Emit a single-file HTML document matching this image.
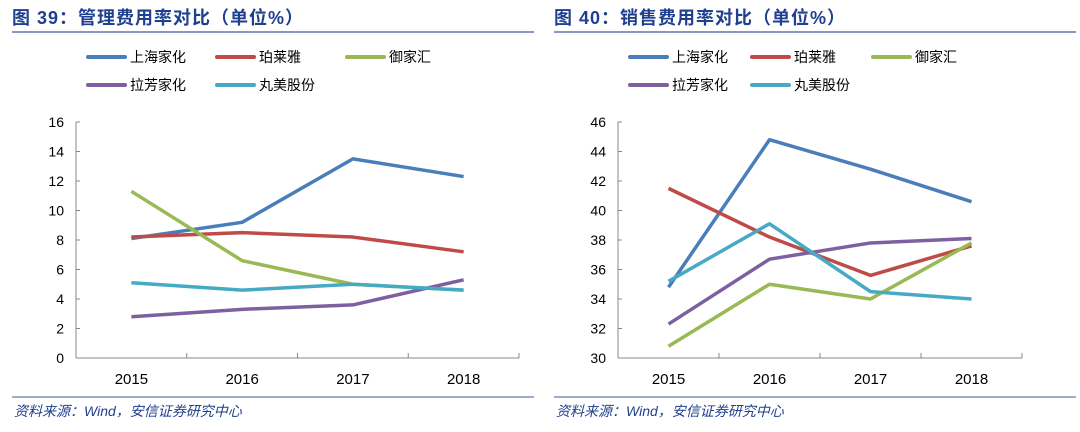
<!DOCTYPE html>
<html><head><meta charset="utf-8"><style>
body{margin:0;width:1080px;height:432px;background:#fff;overflow:hidden;font-family:"Liberation Sans","Noto Sans CJK SC",sans-serif}
svg{position:absolute;left:0;top:0}
</style></head><body>
<svg id="s" width="1080" height="432"></svg>
<script>
const years=["2015","2016","2017","2018"];
const names=["上海家化","珀莱雅","御家汇","拉芳家化","丸美股份"];
const colors=["#4a7ebb","#be4b48","#98b954","#7d60a0","#46aac5"];
const mgmtShjh=[8.1,9.2,13.5,12.3];
const mgmtPly=[8.2,8.5,8.2,7.2];
const mgmtYjh=[11.3,6.6,5.0,4.6];
const mgmtLf=[2.8,3.3,3.6,5.3];
const mgmtWm=[5.1,4.6,5.0,4.6];
const saleShjh=[34.8,44.8,42.8,40.6];
const salePly=[41.5,38.2,35.6,37.6];
const saleYjh=[30.8,35.0,34.0,37.8];
const saleLf=[32.3,36.7,37.8,38.1];
const saleWm=[35.2,39.1,34.5,34.0];
const leftTicks=[0,2,4,6,8,10,12,14,16];
const rightTicks=[30,32,34,36,38,40,42,44,46];
const S=document.getElementById('s');const NS="http://www.w3.org/2000/svg";
function mk(t,a,txt){const e=document.createElementNS(NS,t);for(const k in a)e.setAttribute(k,a[k]);if(txt!=null)e.textContent=txt;S.appendChild(e);return e;}
function chart(o){
  const t=mk('text',{x:o.x0-2,y:24,'font-size':18,'font-weight':'bold',fill:'#1f3f8f','letter-spacing':1},o.title);
  
  
  const l=mk('line',{x1:o.x0-2,x2:o.x0+520,y1:32,y2:32,stroke:'#3c5a96','stroke-width':1.2});
  
  
  const f=mk('line',{x1:o.x0-2,x2:o.x0+520,y1:397,y2:397,stroke:'#3c5a96','stroke-width':1});
  
  
  const ft=mk('text',{x:o.x0,y:416,'font-size':14,'font-style':'italic',fill:'#1f3f8f'},'资料来源：Wind，安信证券研究中心');
  
  
  const y0=358,y1=122,ymin=o.ticks[0],ymax=o.ticks[o.ticks.length-1];
  const Y=v=>y0-(v-ymin)/(ymax-ymin)*(y0-y1);
  const cw=(o.ax1-o.ax0)/years.length;
  const X=i=>o.ax0+cw*(i+0.5);
  const ax=mk('line',{x1:o.ax0,x2:o.ax0,y1:y1,y2:y0,stroke:'#888','stroke-width':1});
  
  
  const xa=mk('line',{x1:o.ax0,x2:o.ax1,y1:y0,y2:y0,stroke:'#888','stroke-width':1});
  
  
  o.ticks.forEach(v=>{
    mk('line',{x1:o.ax0,x2:o.ax0+4,y1:Y(v),y2:Y(v),stroke:'#888'});
    const tl=mk('text',{x:o.ax0-12,y:Y(v)+5,'font-size':14,'text-anchor':'end',fill:'#000'},v);
    
    
  });
  for(let i=0;i<=years.length;i++)mk('line',{x1:o.ax0+cw*i,x2:o.ax0+cw*i,y1:y0,y2:y0-5,stroke:'#888'});
  years.forEach((y,i)=>{
    const tl=mk('text',{x:X(i),y:384,'font-size':15,'text-anchor':'middle',fill:'#000'},y);
    
    
  });
  o.series.forEach((d,k)=>{
    const p=mk('polyline',{points:d.map((v,i)=>X(i)+','+Y(v)).join(' '),fill:'none',stroke:colors[k],'stroke-width':3.5,'stroke-linejoin':'round'});
    
    
  });
  names.forEach((n,k)=>{
    const lx=o.lx[k%3],ly=k<3?57:85;
    const g=mk('line',{x1:lx,x2:lx+37,y1:ly,y2:ly,stroke:colors[k],'stroke-width':4,'stroke-linecap':'round'});
    
    
    const tt=mk('text',{x:lx+42,y:ly+5,'font-size':14,fill:'#000'},n);
    
    
  });
}
chart({x0:14,title:'图 39：管理费用率对比（单位%）',ticks:leftTicks,ax0:76,ax1:519,lx:[88,217,347],series:[mgmtShjh,mgmtPly,mgmtYjh,mgmtLf,mgmtWm]});
chart({x0:556,title:'图 40：销售费用率对比（单位%）',ticks:rightTicks,ax0:618,ax1:1022,lx:[630,752,873],series:[saleShjh,salePly,saleYjh,saleLf,saleWm]});
</script>
</body></html>
